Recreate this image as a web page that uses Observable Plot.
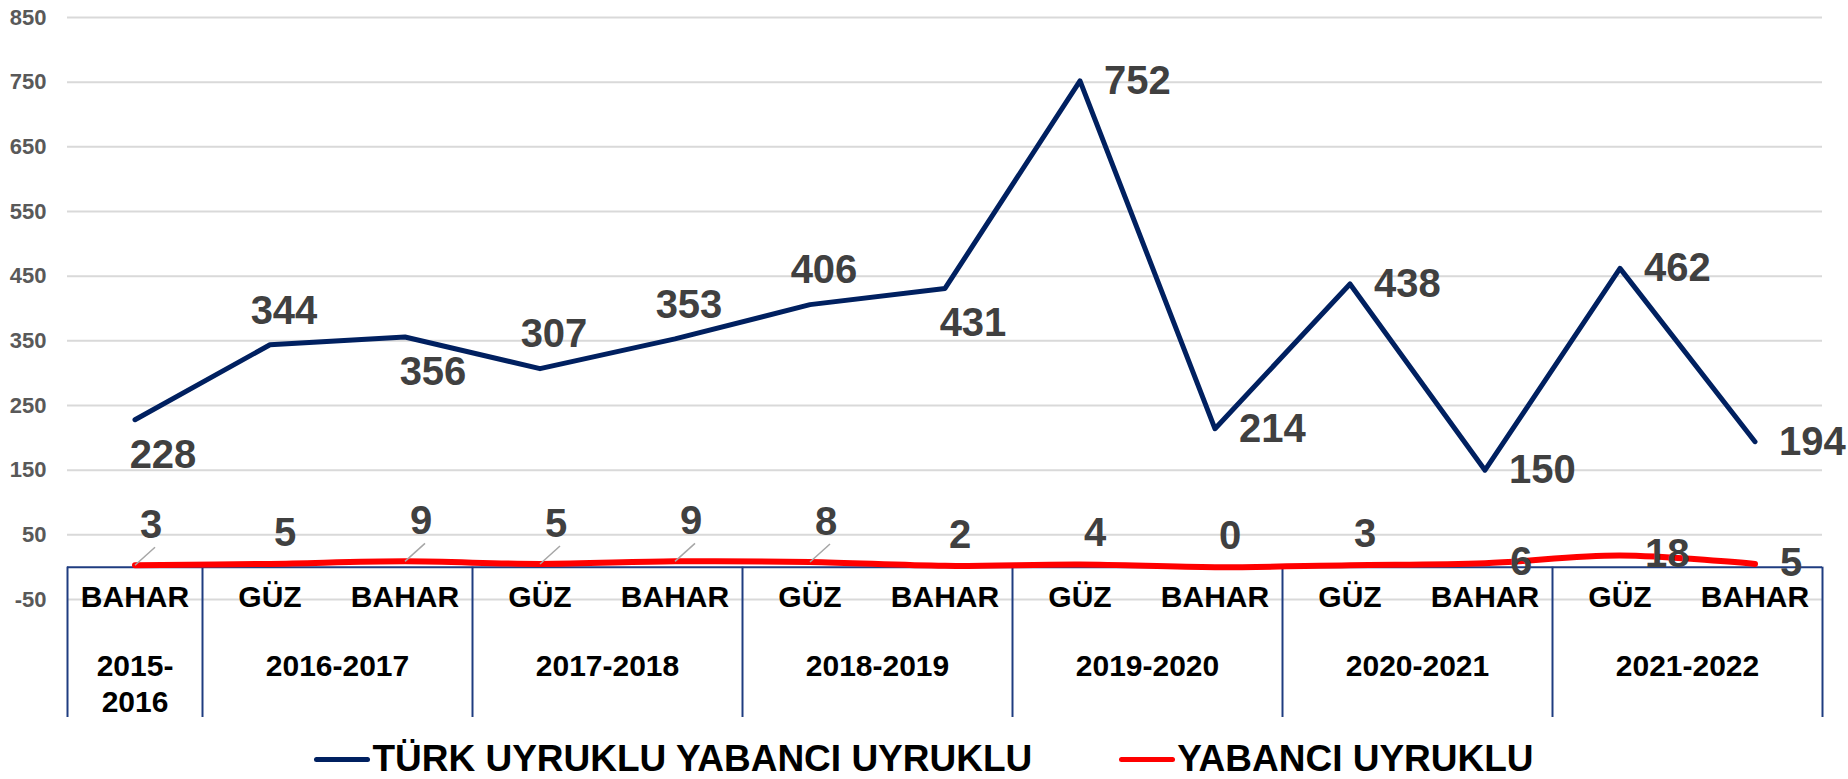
<!DOCTYPE html>
<html>
<head>
<meta charset="utf-8">
<script src="https://cdn.jsdelivr.net/npm/d3@7"></script>
<script src="https://cdn.jsdelivr.net/npm/@observablehq/plot@0.6"></script>
<style>
  html, body { margin: 0; padding: 0; background: #fff; }
  #chart svg { display: block; }
  .legend {
    height: 54px; width: 1848px; display: flex; justify-content: center; align-items: flex-start;
    gap: 87px; font-family: "Liberation Sans", Arial, sans-serif; font-weight: bold;
    font-size: 37px; color: #000;
  }
  .item { margin-top: 15px; height: 38px; line-height: 38px; display: flex; align-items: center; white-space: nowrap; }
  .sw { width: 56px; height: 5px; border-radius: 3px; margin-right: 2px; }
</style>
</head>
<body>
<div id="chart"></div>
<div class="legend" id="legend"></div>
<script>
// ---- data ----
const periods = ["BAHAR","GÜZ","BAHAR","GÜZ","BAHAR","GÜZ","BAHAR","GÜZ","BAHAR","GÜZ","BAHAR","GÜZ","BAHAR"];
const years = ["2015-2016","2016-2017","2016-2017","2017-2018","2017-2018","2018-2019","2018-2019",
               "2019-2020","2019-2020","2020-2021","2020-2021","2021-2022","2021-2022"];
const turk = [228, 344, 356, 307, 353, 406, 431, 752, 214, 438, 150, 462, 194];
const yabanci = [3, 5, 9, 5, 9, 8, 2, 4, 0, 3, 6, 18, 5];
const yTicks = [-50, 50, 150, 250, 350, 450, 550, 650, 750, 850];
const seriesNames = ["TÜRK UYRUKLU YABANCI UYRUKLU", "YABANCI UYRUKLU"];
const seriesColors = ["#002060", "#ff0000"];
// data-label placement (like Excel's label position option)
const turkLabelPos = ["below","above","below","above","above","above","below","right","right","right","right","right","right"];
const yabanciLabelPos = ["leader","above","leader","leader","leader","leader","above","above","above","above","right","right","right"];

// ---- layout / style ----
const FONT = '"Liberation Sans", Arial, Helvetica, sans-serif';
const W = 1848, H = 725;
const M = {left: 67, right: 26, top: 17, bottom: 8};
const Y_RANGE = [599, 17];
const Y_DOMAIN = [-50, 850];
const BOX = "#1f3c80";
const LABEL = "#404040";

const rows = periods.map((p, i) => ({
  i, period: p, year: years[i], turk: turk[i], yabanci: yabanci[i],
  tPos: turkLabelPos[i], yPos: yabanciLabelPos[i]
}));

const yearGroups = d3.groups(rows, d => d.year).map(([year, rs]) => ({
  year,
  x: d3.mean(rs, d => d.i),
  lo: d3.min(rs, d => d.i) - 0.5,
  hi: d3.max(rs, d => d.i) + 0.5,
  label: rs.length === 1 ? year.replace("-", "-\n") : year
}));
const boundaries = yearGroups.map(g => g.lo).concat([yearGroups[yearGroups.length - 1].hi]);

// pixel <-> data-unit conversions for decorations
const pxPerX = (W - M.left - M.right) / periods.length;
const pxPerY = (Y_RANGE[0] - Y_RANGE[1]) / (Y_DOMAIN[1] - Y_DOMAIN[0]);
const LX = 20 / pxPerX, LY = 18 / pxPerY;
const BOX_BOTTOM = Y_DOMAIN[0] - ((H - M.bottom) - Y_RANGE[0]) / pxPerY;

const turkPlace = {
  above: {dx: 14, dy: -34, textAnchor: "middle"},
  below: {dx: 28, dy: 35, textAnchor: "middle"},
  right: {dx: 24, dy: 0, textAnchor: "start"}
};
const yabPlace = {
  leader: {dx: 16, dy: -40, textAnchor: "middle"},
  above: {dx: 15, dy: -31, textAnchor: "middle"},
  right: {dx: 25, dy: -1, textAnchor: "start"}
};

const labelMarks = [];
for (const [p, o] of Object.entries(turkPlace)) {
  labelMarks.push(Plot.text(rows.filter(d => d.tPos === p), {
    x: "i", y: "turk", text: d => String(d.turk), ...o,
    fontSize: 40, fontWeight: "bold", fill: LABEL, fontFamily: FONT
  }));
}
for (const [p, o] of Object.entries(yabPlace)) {
  labelMarks.push(Plot.text(rows.filter(d => d.yPos === p), {
    x: "i", y: "yabanci", text: d => String(d.yabanci), ...o,
    fontSize: 40, fontWeight: "bold", fill: LABEL, fontFamily: FONT
  }));
}

const chart = Plot.plot({
  width: W, height: H,
  marginLeft: M.left, marginRight: M.right, marginTop: M.top, marginBottom: M.bottom,
  style: {fontFamily: FONT, fontSize: "22px", fontWeight: "bold", color: "#595959", background: "#fff", overflow: "visible"},
  x: {type: "linear", domain: [-0.5, periods.length - 0.5], axis: null},
  y: {domain: Y_DOMAIN, range: Y_RANGE, ticks: yTicks, tickSize: 0, tickPadding: 21, label: null, tickFormat: d => String(d)},
  marks: [
    Plot.ruleY(yTicks, {stroke: "#d9d9d9", strokeWidth: 2}),
    Plot.ruleY([0], {stroke: BOX, strokeWidth: 2}),
    Plot.ruleX(boundaries, {x: d => d, y1: 0, y2: BOX_BOTTOM, stroke: BOX, strokeWidth: 2}),
    Plot.text(rows, {x: "i", text: "period", frameAnchor: "bottom", dy: -111,
      fontSize: 30, fontWeight: "bold", fill: "#000", fontFamily: FONT}),
    Plot.text(yearGroups, {x: "x", text: "label", frameAnchor: "bottom", dy: -66, lineAnchor: "top",
      lineHeight: 1.17, fontSize: 30, fontWeight: "bold", fill: "#000", fontFamily: FONT}),
    Plot.line(rows, {x: "i", y: "turk", stroke: seriesColors[0], strokeWidth: 5,
      strokeLinecap: "round", strokeLinejoin: "round"}),
    Plot.line(rows, {x: "i", y: "yabanci", stroke: seriesColors[1], strokeWidth: 6,
      curve: "catmull-rom", strokeLinecap: "round", strokeLinejoin: "round"}),
    Plot.link(rows.filter(d => d.yPos === "leader"), {
      x1: "i", y1: "yabanci", x2: d => d.i + LX, y2: d => d.yabanci + LY,
      stroke: "#a6a6a6", strokeWidth: 1.5}),
    ...labelMarks
  ]
});
document.getElementById("chart").appendChild(chart);

const legend = document.getElementById("legend");
seriesNames.forEach((name, k) => {
  const it = document.createElement("div");
  it.className = "item";
  const sw = document.createElement("span");
  sw.className = "sw";
  sw.style.background = seriesColors[k];
  const tx = document.createElement("span");
  tx.textContent = name;
  it.appendChild(sw); it.appendChild(tx);
  legend.appendChild(it);
});
</script>
</body>
</html>
